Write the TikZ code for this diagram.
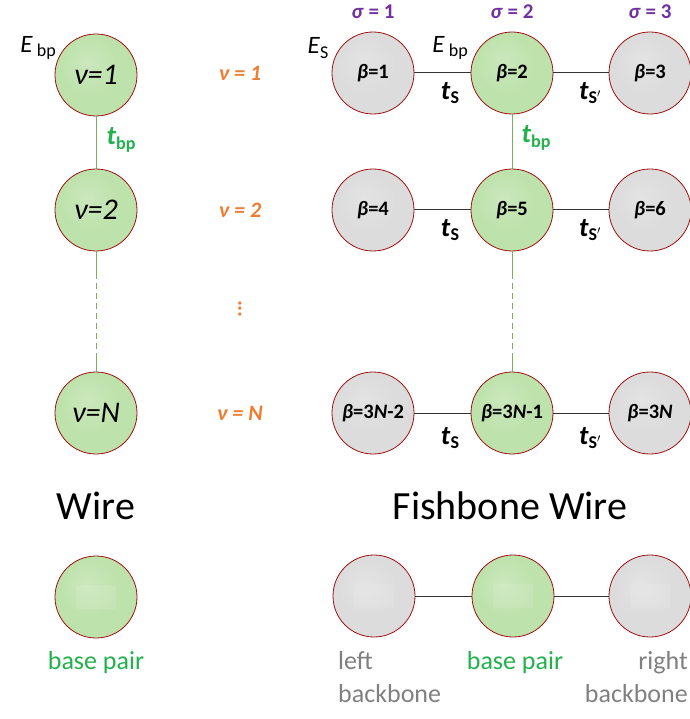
\documentclass[tikz,border=0pt]{standalone}
\usepackage{fontspec}
\setmainfont{Carlito}
\usetikzlibrary{calc}
\definecolor{gin}{HTML}{BEE2AC}
\definecolor{gout}{HTML}{8FBF78}
\definecolor{ain}{HTML}{DCDCDC}
\definecolor{aout}{HTML}{A5A5A5}
\definecolor{rim}{HTML}{A01010}
\definecolor{orng}{HTML}{ED7D31}
\definecolor{purp}{HTML}{7030A0}
\definecolor{gtxt}{HTML}{22B14C}
\definecolor{gline}{HTML}{77B255}
\definecolor{gray}{HTML}{808080}
\pgfdeclareradialshading{gshade}{\pgfpoint{-6bp}{8bp}}{color(0bp)=(gin!80!white); color(18bp)=(gin); color(38bp)=(gin); color(50bp)=(gout)}
\pgfdeclareradialshading{ashade}{\pgfpoint{-6bp}{8bp}}{color(0bp)=(ain!80!white); color(18bp)=(ain); color(38bp)=(ain); color(50bp)=(aout)}
\newcommand{\subx}[1]{\raisebox{-0.35ex}{\fontsize{18}{18}\selectfont #1}}
\tikzset{
  ball/.style={circle,minimum size=82pt,inner sep=0pt,draw=rim,line width=0.8pt},
  gball/.style={ball,shading=gshade},
  aball/.style={ball,shading=ashade},
  vtxt/.style={font=\fontsize{30}{32}\selectfont\itshape},
  btxt/.style={font=\fontsize{20.5}{22}\selectfont\bfseries},
  otxt/.style={text=orng,font=\fontsize{22}{24}\selectfont\bfseries\itshape},
  stxt/.style={text=purp,font=\fontsize{21}{24}\selectfont\bfseries},
  ttxt/.style={font=\fontsize{27}{28}\selectfont\bfseries},
  etxt/.style={font=\fontsize{25}{27}\selectfont},
  big/.style={font=\fontsize{40}{44}\selectfont},
  lab/.style={font=\fontsize{26}{33}\selectfont},
  hline/.style={line width=1pt,draw=black!80},
  vline/.style={line width=1pt,draw=gline},
}
\begin{document}
\begin{tikzpicture}[x=1pt,y=-1pt]
\useasboundingbox (0,0) rectangle (689,719);
% left wire
\node[gball,vtxt] (v1) at (96,75) {ν=1};
\node[gball,vtxt] (v2) at (96,210) {ν=2};
\node[gball,vtxt] (vN) at (96,413) {ν=\textit{N}};
\coordinate (la) at ($(v2.south)+(0,22)$);
\coordinate (lb) at ($(vN.north)+(0,-15)$);
\draw[vline] (v1) -- (v2);
\draw[vline] (v2) -- (la);
\draw[vline,dash pattern=on 6pt off 4pt] (la) -- (lb);
\draw[vline] (lb) -- (vN);
\node[etxt] (ebpl) at (38,48) {\textit{E}\,\subx{bp}};
\node[ttxt,text=gtxt] (tbpl) at (121,140) {\textit{t}\subx{bp}};
% orange labels
\node[otxt] (o1) at (240,73) {ν = 1};
\node[otxt] (o2) at (240,210) {ν = 2};
\node[otxt] (o3) at (240,413) {ν = \textit{N}};
\node[text=orng,font=\fontsize{22}{24}\selectfont\bfseries,inner sep=0pt] (od) at (240,309) {\rotatebox{90}{...}};
% fishbone
\node[aball,btxt] (b1) at (373,73) {\textit{β}=1};
\node[gball,btxt] (b2) at (512,73) {\textit{β}=2};
\node[aball,btxt] (b3) at (650,73) {\textit{β}=3};
\node[aball,btxt] (b4) at (373,210) {\textit{β}=4};
\node[gball,btxt] (b5) at (512,210) {\textit{β}=5};
\node[aball,btxt] (b6) at (650,210) {\textit{β}=6};
\node[aball,btxt] (b7) at (373,413) {\textit{β}=3\textit{N}-2};
\node[gball,btxt] (b8) at (512,413) {\textit{β}=3\textit{N}-1};
\node[aball,btxt] (b9) at (650,413) {\textit{β}=3\textit{N}};
\draw[hline] (b1) -- (b2);
\draw[hline] (b2) -- (b3);
\draw[hline] (b4) -- (b5);
\draw[hline] (b5) -- (b6);
\draw[hline] (b7) -- (b8);
\draw[hline] (b8) -- (b9);
\coordinate (ra) at ($(b5.south)+(0,22)$);
\coordinate (rb) at ($(b8.north)+(0,-15)$);
\draw[vline] (b2) -- (b5);
\draw[vline] (b5) -- (ra);
\draw[vline,dash pattern=on 6pt off 4pt] (ra) -- (rb);
\draw[vline] (rb) -- (b8);
\node[stxt] (s1) at (373,12) {\textit{σ} = 1};
\node[stxt] (s2) at (512,12) {\textit{σ} = 2};
\node[stxt] (s3) at (650,12) {\textit{σ} = 3};
\node[etxt] (es) at (318,48) {\textit{E}\subx{S}};
\node[etxt] (ebpr) at (450,48) {\textit{E}\,\subx{bp}};
\node[ttxt,text=gtxt] (tbpr) at (536,138) {\textit{t}\subx{bp}};
\foreach \y/\n in {93/1,230/2,438/3}{
  \node[ttxt] (ts\n) at (450,\y) {\textit{t}\subx{S}};
  \node[ttxt] (tsp\n) at (590,\y) {\textit{t}\subx{S\ensuremath{'}}};
}
% titles
\node[big] (wire) at (96,506) {Wire};
\node[big] (fish) at (510,506) {Fishbone Wire};
% legend
\node[gball] (lg1) at (96,597) {};
\node[aball] (lg2) at (374,596) {};
\node[gball] (lg3) at (513,596) {};
\node[aball] (lg4) at (650,596) {};
\foreach \n in {lg1,lg2,lg3,lg4}{
  \fill[white,opacity=0.1] ($(\n.center)+(-20,-12)$) rectangle ($(\n.center)+(20,12)$);
}
\draw[hline] (lg2) -- (lg3);
\draw[hline] (lg3) -- (lg4);
\node[lab,text=gtxt] (bp1) at (96,663) {base pair};
\node[lab,text=gtxt] (bp2) at (515,663) {base pair};
\node[lab,text=gray,align=left,anchor=north west,inner sep=0pt] (lb) at (338,651) {left\\backbone};
\node[lab,text=gray,align=right,anchor=north east,inner sep=0pt] (rbk) at (688,651) {right\\backbone};
\end{tikzpicture}
\end{document}
